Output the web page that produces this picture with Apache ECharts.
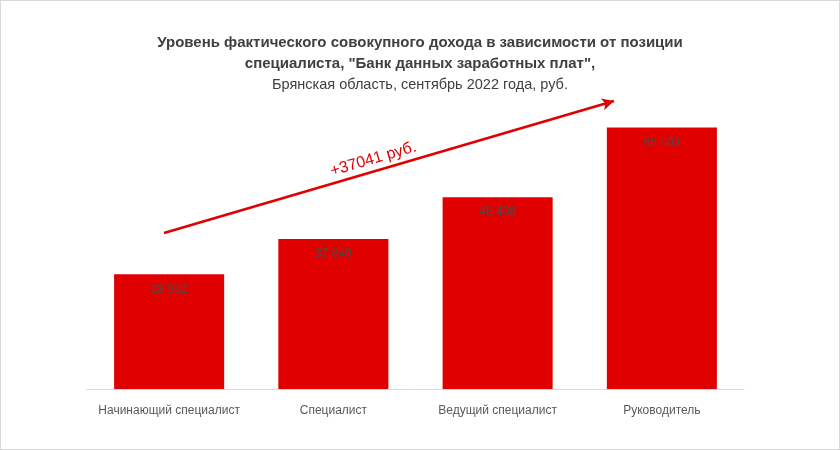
<!DOCTYPE html>
<html>
<head>
<meta charset="utf-8">
<script src="https://cdn.jsdelivr.net/npm/echarts@6/dist/echarts.min.js"></script>
<style>
    html, body { margin: 0; padding: 0; background: #fff; }
    #chart { width: 840px; height: 450px; box-sizing: border-box; border: 1px solid #d9d9d9; }
</style>
</head>
<body>
<div id="chart"></div>
<script>
// данные
var categories = ['Начинающий специалист', 'Специалист', 'Ведущий специалист', 'Руководитель'];
var incomeValues = [28962, 37849, 48408, 66003];
var growthLabel = '+37041 руб.';

(function() {
    var myChart = echarts.init(document.getElementById('chart'));

    function fmt(v) {
        return String(v).replace(/\B(?=(\d{3})+(?!\d))/g, ' ');
    }

    var option = {
        textStyle: { fontFamily: 'Liberation Sans' },
        title: {
            left: 'center',
            top: 26,
            text: '{b|Уровень фактического совокупного дохода в зависимости от позиции}\n' +
                '{b|специалиста, "Банк данных заработных плат",}\n' +
                '{n|Брянская область, сентябрь 2022 года, руб.}',
            textStyle: {
                fontWeight: 'normal',
                rich: {
                    b: { fontSize: 15, fontWeight: 'bold', color: '#404040', lineHeight: 21, fontFamily: 'Liberation Sans' },
                    n: { fontSize: 14.5, fontWeight: 'normal', color: '#404040', lineHeight: 21, fontFamily: 'Liberation Sans' }
                }
            }
        },
        grid: { left: 86, right: 95, top: 71, bottom: 60 },
        xAxis: {
            type: 'category',
            data: categories,
            axisLine: { lineStyle: { color: '#d9d9d9', width: 1 } },
            axisTick: { show: false },
            axisLabel: { color: '#595959', fontSize: 12, margin: 16, interval: 0 }
        },
        yAxis: {
            type: 'value',
            min: 0,
            max: 80000,
            show: false,
            splitLine: { show: false }
        },
        series: [{
            type: 'bar',
            data: incomeValues,
            barWidth: '67%',
            itemStyle: { color: '#e10000' },
            label: {
                show: true,
                position: 'insideTop',
                distance: 9,
                color: '#5a4545',
                fontSize: 12,
                formatter: function(p) { return fmt(p.value); }
            },
            markLine: {
                silent: true,
                symbol: ['none', 'arrow'],
                symbolSize: [9, 12],
                lineStyle: { color: '#e10000', width: 2.5, type: 'solid' },
                label: {
                    show: true,
                    position: 'middle',
                    formatter: growthLabel,
                    color: '#e10000',
                    fontSize: 16,
                    distance: 4,
                    offset: [-14, 0]
                },
                data: [[{ x: 163, y: 232 }, { x: 613, y: 100 }]]
            }
        }]
    };
    myChart.setOption(option);
})();
</script>
</body>
</html>
